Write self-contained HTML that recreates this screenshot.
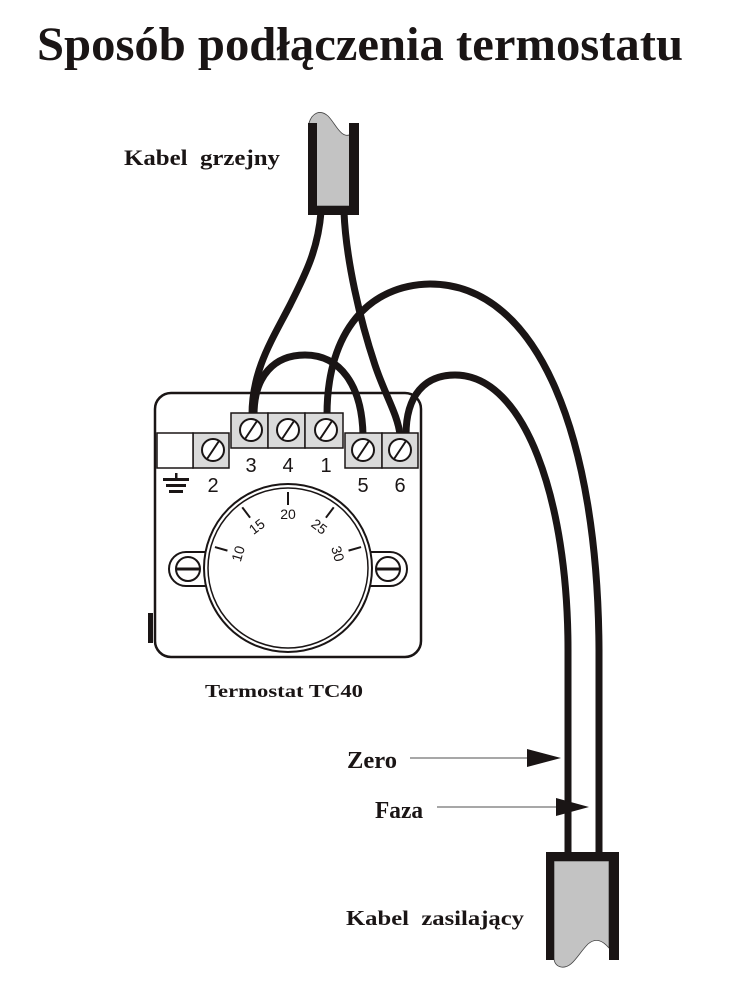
<!DOCTYPE html>
<html>
<head>
<meta charset="utf-8">
<style>
  html,body{margin:0;padding:0;background:#fff;}
  svg{display:block;}
  .t{font-family:"Liberation Serif","DejaVu Serif",serif;font-weight:bold;fill:#1a1515;white-space:pre;}
  .n{font-family:"Liberation Sans","DejaVu Sans",sans-serif;fill:#1a1515;}
</style>
</head>
<body>
<svg width="733" height="1000" viewBox="0 0 733 1000" xmlns="http://www.w3.org/2000/svg">
  <rect width="733" height="1000" fill="#fff"/>

  <!-- Title -->
  <text class="t" x="37" y="60" font-size="48" textLength="646" lengthAdjust="spacingAndGlyphs">Sposób podłączenia termostatu</text>

  <!-- Labels -->
  <text class="t" x="124" y="165" font-size="22" textLength="156" lengthAdjust="spacingAndGlyphs">Kabel  grzejny</text>
  <text class="t" x="205" y="697" font-size="18" textLength="158" lengthAdjust="spacingAndGlyphs">Termostat TC40</text>
  <text class="t" x="347" y="768" font-size="24" textLength="50" lengthAdjust="spacingAndGlyphs">Zero</text>
  <text class="t" x="375" y="818" font-size="24" textLength="48" lengthAdjust="spacingAndGlyphs">Faza</text>
  <text class="t" x="346" y="925" font-size="21" textLength="178" lengthAdjust="spacingAndGlyphs">Kabel  zasilający</text>

  <!-- Top cable (Kabel grzejny) -->
  <path d="M309,123 C312,113 320,109 328,116 C336,124 341,140 352,134 L352,206 L309,206 Z" fill="#c3c3c3" stroke="#444" stroke-width="0.8"/>
  <rect x="308" y="123" width="9" height="92" fill="#1a1515"/>
  <rect x="349" y="123" width="10" height="92" fill="#1a1515"/>
  <rect x="308" y="206" width="51" height="9" fill="#1a1515"/>

  <!-- Bottom cable (Kabel zasilający) -->
  <path d="M554,861 L609,861 L609,948 C603,941 596,937 588,944 C578,954 572,969 561,967 C556,966 554,962 554,958 Z" fill="#c3c3c3" stroke="#444" stroke-width="0.8"/>
  <rect x="546" y="852" width="8" height="108" fill="#1a1515"/>
  <rect x="609" y="852" width="10" height="108" fill="#1a1515"/>
  <rect x="546" y="852" width="73" height="9" fill="#1a1515"/>

  <!-- Thermostat body -->
  <rect x="155" y="393" width="266" height="264" rx="16" ry="16" fill="#fff" stroke="#1a1515" stroke-width="2.5"/>
  <rect x="148" y="613" width="5" height="30" fill="#1a1515"/>

  <!-- Wires -->
  <g fill="none" stroke="#1a1515" stroke-width="7" stroke-linecap="butt">
    <path d="M321,212 C318,250 305,275 290,305 C272,340 252,370 252,415"/>
    <path d="M344,212 C346,260 360,320 375,365 C385,395 398,415 400,435"/>
    <path d="M254,415 C254,375 275,355 305,355 C340,355 362,385 363,435"/>
    <path d="M327,415 C327,330 370,285 430,284 C540,284 598,440 599,650 L599,853"/>
    <path d="M406,435 C406,395 425,375 455,375 C525,375 568,500 568,650 L568,853"/>
  </g>

  <!-- Terminals -->
  <g fill="#dadada" stroke="#1a1515" stroke-width="1.5">
    <rect x="231" y="413" width="37" height="35"/>
    <rect x="268" y="413" width="37" height="35"/>
    <rect x="305" y="413" width="38" height="35"/>
    <rect x="193" y="433" width="36" height="35"/>
    <rect x="345" y="433" width="37" height="35"/>
    <rect x="382" y="433" width="36" height="35"/>
  </g>
  <rect x="157" y="433" width="36" height="35" fill="#fff" stroke="#1a1515" stroke-width="1.5"/>

  <!-- Screws -->
  <g fill="#fff" stroke="#1a1515" stroke-width="2">
    <circle cx="251" cy="430" r="11"/>
    <circle cx="288" cy="430" r="11"/>
    <circle cx="326" cy="430" r="11"/>
    <circle cx="213" cy="450" r="11"/>
    <circle cx="363" cy="450" r="11"/>
    <circle cx="400" cy="450" r="11"/>
  </g>
  <g stroke="#1a1515" stroke-width="2">
    <line x1="245" y1="439" x2="257" y2="421"/>
    <line x1="282" y1="439" x2="294" y2="421"/>
    <line x1="320" y1="439" x2="332" y2="421"/>
    <line x1="207" y1="459" x2="219" y2="441"/>
    <line x1="357" y1="459" x2="369" y2="441"/>
    <line x1="394" y1="459" x2="406" y2="441"/>
  </g>

  <!-- Terminal numbers -->
  <g class="n" font-size="20" text-anchor="middle">
    <text x="251" y="472">3</text>
    <text x="288" y="472">4</text>
    <text x="326" y="472">1</text>
    <text x="213" y="492">2</text>
    <text x="363" y="492">5</text>
    <text x="400" y="492">6</text>
  </g>

  <!-- Ground symbol -->
  <g fill="#1a1515">
    <rect x="175" y="473" width="2.5" height="6"/>
    <rect x="163" y="478" width="26" height="3"/>
    <rect x="166" y="484" width="20" height="3"/>
    <rect x="169" y="490" width="14" height="3"/>
  </g>

  <!-- Mounting lugs -->
  <g fill="#fff" stroke="#1a1515" stroke-width="2">
    <path d="M215,552 L186,552 A17,17 0 0 0 186,586 L215,586"/>
    <path d="M361,552 L390,552 A17,17 0 0 1 390,586 L361,586"/>
    <circle cx="188" cy="569" r="12"/>
    <circle cx="388" cy="569" r="12"/>
  </g>
  <g stroke="#1a1515" stroke-width="3">
    <line x1="176" y1="569" x2="200" y2="569"/>
    <line x1="376" y1="569" x2="400" y2="569"/>
  </g>

  <!-- Dial -->
  <circle cx="288" cy="568" r="84" fill="#fff" stroke="#1a1515" stroke-width="2"/>
  <circle cx="288" cy="568" r="80" fill="none" stroke="#1a1515" stroke-width="1.5"/>

  <!-- Ticks and labels -->
  <g transform="translate(288,568)">
    <g stroke="#1a1515" stroke-width="2">
      <line x1="0" y1="-63" x2="0" y2="-76"/>
      <line x1="0" y1="-63" x2="0" y2="-76" transform="rotate(-37)"/>
      <line x1="0" y1="-63" x2="0" y2="-76" transform="rotate(37)"/>
      <line x1="0" y1="-63" x2="0" y2="-76" transform="rotate(-74)"/>
      <line x1="0" y1="-63" x2="0" y2="-76" transform="rotate(74)"/>
    </g>
    <g class="n" font-size="14" text-anchor="middle">
      <text x="0" y="-49">20</text>
      <text x="0" y="-47" transform="rotate(-37)">15</text>
      <text x="0" y="-47" transform="rotate(37)">25</text>
      <text x="0" y="-47" transform="rotate(-74)">10</text>
      <text x="0" y="-47" transform="rotate(74)">30</text>
    </g>
  </g>

  <!-- Arrows -->
  <line x1="410" y1="758" x2="528" y2="758" stroke="#8a8a8a" stroke-width="1.5"/>
  <polygon points="527,749 561,758 527,767" fill="#1a1515"/>
  <line x1="437" y1="807" x2="557" y2="807" stroke="#8a8a8a" stroke-width="1.5"/>
  <polygon points="556,798 589,807 556,816" fill="#1a1515"/>
</svg>
</body>
</html>
